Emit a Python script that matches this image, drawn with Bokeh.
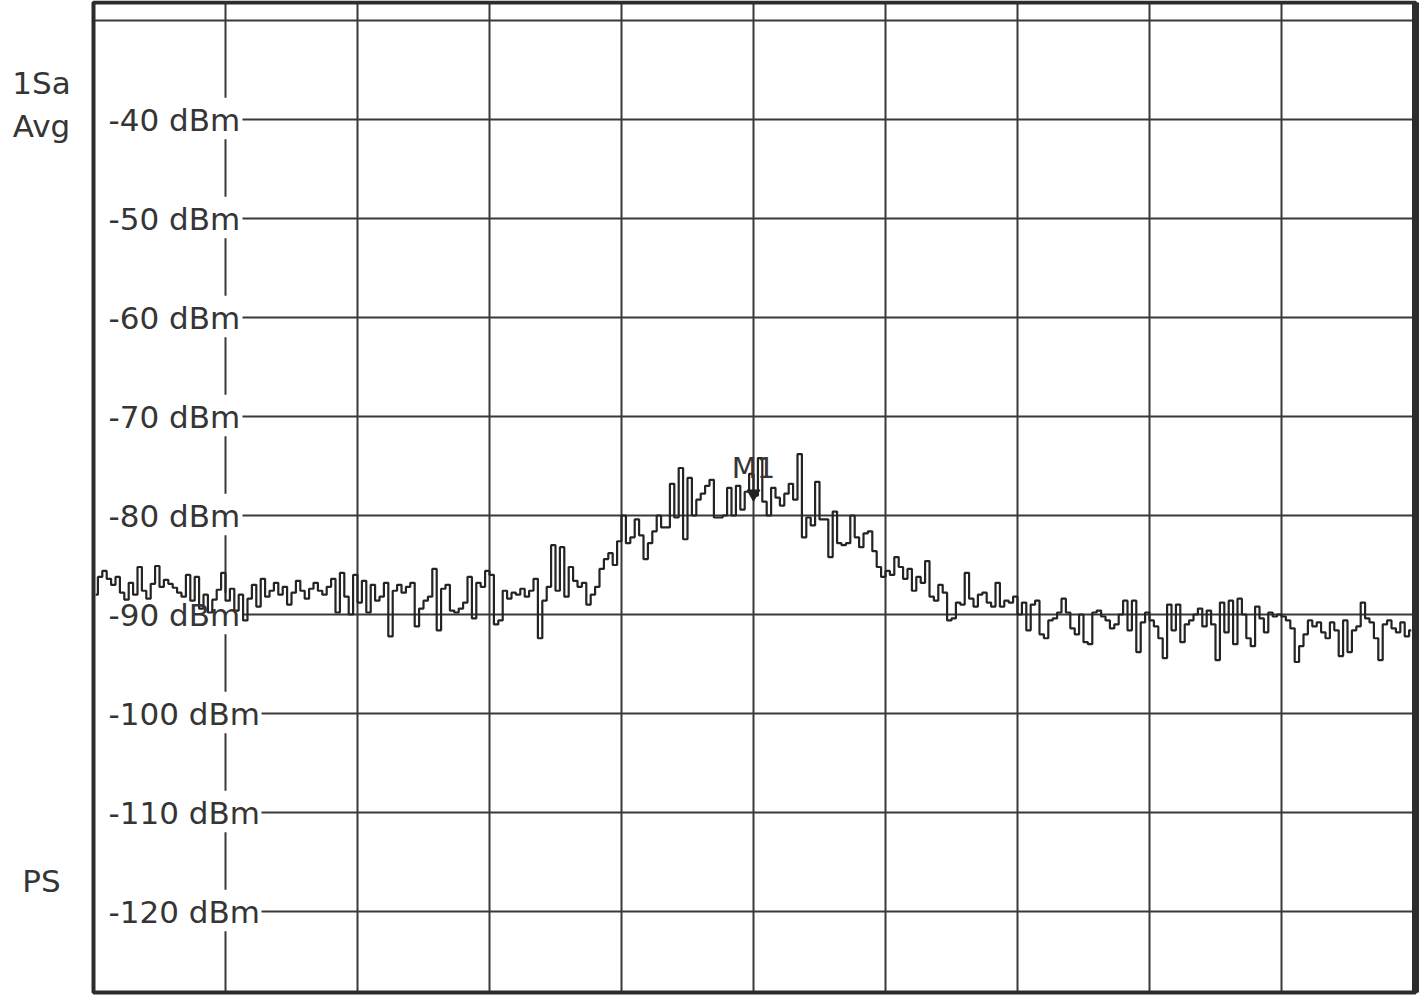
import numpy as np
from bokeh.plotting import figure
from bokeh.models import Label, Range1d
from bokeh.embed import file_html
from bokeh.resources import INLINE

# ---------------- data ----------------
# Spectrum trace (dBm), 300 sweep points, 30 points per horizontal division
trace_dbm = [
    # division 0
    -88.0, -86.2, -85.6, -86.4, -87.0, -86.2, -87.8, -88.5, -86.8, -88.0,
    -85.2, -87.6, -88.4, -86.9, -85.1, -87.2, -86.5, -86.9, -87.3, -87.8,
    -88.2, -86.0, -88.6, -86.2, -89.4, -88.0, -89.8, -88.5, -87.5, -85.8,
    # division 1
    -88.6, -87.4, -89.6, -88.0, -90.6, -88.4, -87.0, -89.2, -86.4, -88.2,
    -87.6, -86.8, -88.0, -87.2, -89.0, -87.8, -86.6, -87.6, -88.4, -87.4,
    -86.8, -87.6, -88.0, -87.2, -86.4, -89.8, -85.8, -88.2, -90.0, -86.0,
    # division 2
    -88.8, -86.6, -89.8, -87.0, -88.6, -88.2, -86.8, -92.2, -87.6, -87.0,
    -87.8, -87.2, -86.8, -91.2, -89.4, -88.6, -88.2, -85.4, -91.6, -87.4,
    -87.0, -89.6, -89.8, -89.4, -88.8, -86.2, -90.4, -86.8, -87.2, -85.6,
    # division 3
    -86.0, -91.0, -90.6, -87.6, -88.4, -87.8, -88.0, -87.4, -88.2, -87.6,
    -86.4, -92.4, -88.6, -87.2, -83.0, -87.6, -83.2, -88.2, -85.2, -86.6,
    -87.2, -86.8, -89.0, -88.0, -87.2, -85.4, -84.4, -83.8, -85.0, -82.6,
    # division 4
    -80.0, -82.8, -82.2, -80.4, -82.0, -84.4, -82.8, -81.6, -80.0, -81.2,
    -81.2, -76.8, -80.2, -75.2, -82.4, -76.2, -80.0, -78.4, -77.8, -77.0,
    -76.4, -80.2, -80.2, -80.0, -77.2, -80.0, -77.0, -79.4, -77.6, -75.8,
    # division 5
    -78.0, -74.2, -78.6, -80.0, -77.2, -78.2, -79.0, -77.8, -76.8, -78.4,
    -73.8, -82.2, -80.2, -81.0, -76.6, -80.4, -80.4, -84.2, -79.6, -82.8,
    -83.0, -82.8, -80.0, -82.2, -83.2, -81.8, -81.6, -83.6, -85.2, -86.2,
    # division 6
    -85.6, -86.0, -84.2, -85.2, -86.4, -85.4, -87.6, -86.2, -86.8, -84.6,
    -88.2, -88.6, -87.0, -87.8, -90.6, -90.4, -88.8, -89.0, -85.8, -88.4,
    -89.2, -88.0, -87.8, -88.8, -89.2, -86.8, -89.2, -88.6, -88.8, -88.2,
    # division 7
    -90.0, -88.8, -91.6, -89.0, -88.6, -92.0, -92.4, -90.6, -90.4, -89.8,
    -88.4, -89.8, -91.4, -92.0, -90.0, -92.8, -93.0, -89.8, -89.6, -90.2,
    -90.6, -91.4, -91.0, -90.0, -88.6, -91.6, -88.6, -93.8, -90.8, -89.8,
    # division 8
    -90.6, -91.2, -92.4, -94.4, -89.0, -91.6, -89.0, -92.8, -91.0, -90.6,
    -90.0, -89.4, -91.2, -89.6, -91.0, -94.6, -88.8, -91.8, -88.6, -93.0,
    -88.4, -90.0, -92.4, -93.2, -89.2, -90.4, -91.8, -89.8, -90.2, -90.0,
    # division 9
    -90.2, -90.6, -91.4, -94.8, -93.2, -92.0, -90.6, -91.2, -90.8, -91.8,
    -92.4, -90.8, -91.6, -94.2, -90.6, -93.8, -91.6, -91.2, -88.8, -90.4,
    -90.8, -92.4, -94.6, -91.0, -90.6, -91.4, -91.8, -90.8, -92.2, -91.6,
]

grid_levels = [-30, -40, -50, -60, -70, -80, -90, -100, -110, -120]
level_labels = ["", "-40 dBm", "-50 dBm", "-60 dBm", "-70 dBm", "-80 dBm",
                "-90 dBm", "-100 dBm", "-110 dBm", "-120 dBm"]
v_divisions = [1, 2, 3, 4, 5, 6, 7, 8, 9]
n_divisions = 10

marker_name = "M1"
marker_x_div = 5.0
marker_dbm = -77.8

side_texts = ["1Sa", "Avg", "PS"]
side_text_dbm = [-36.3, -40.7, -116.9]

# ---------------- layout / style ----------------
FONT = "DejaVu Sans"
TXT = "#353535"
GRID = "#3b3938"
EDGE = "#2c2c2c"
PX_PER_DIV = 132.0          # horizontal pixels per division
PX_PER_DB = 9.9             # vertical pixels per dB
W, H = 1420, 995
BOX_LEFT_PX = 93.0
REF_PX = 20.0               # pixel row of the -30 dBm line


def px_to_div(px):
    return (px - BOX_LEFT_PX) / PX_PER_DIV


def py_to_db(py):
    return -30.0 - (py - REF_PX) / PX_PER_DB


p = figure(width=W, height=H,
           x_range=Range1d(px_to_div(0), px_to_div(W)),
           y_range=Range1d(py_to_db(H), py_to_db(0)),
           output_backend="svg", toolbar_location=None,
           x_axis_location=None, y_axis_location=None,
           min_border_left=0, min_border_right=0, min_border_top=0,
           min_border_bottom=0)
p.grid.visible = False
p.outline_line_color = None
p.background_fill_color = "white"
p.border_fill_color = "white"

box_top = py_to_db(2)
box_bottom = py_to_db(992)
box_right = px_to_div(1415)

# horizontal grid lines (start right after their label)
label_left = px_to_div(108)
font_px = 31
char_px = 19.0
hx0, hx1, hy = [], [], []
for lvl, lab in zip(grid_levels, level_labels):
    start = 0.0 if lab == "" else px_to_div(108 + char_px * len(lab) + 1)
    hx0.append(start)
    hx1.append(box_right)
    hy.append(lvl)
p.segment(x0=hx0, y0=hy, x1=hx1, y1=hy, line_color=GRID, line_width=2)

# vertical grid lines; the first one is interrupted by the labels
vx0, vy0, vy1 = [], [], []
for d in v_divisions:
    if d == 1:
        top = box_top
        for lvl, lab in zip(grid_levels, level_labels):
            if lab:
                vx0.append(d); vy0.append(top); vy1.append(lvl + 2.2)
                top = lvl - 2.0
        vx0.append(d); vy0.append(top); vy1.append(box_bottom)
    else:
        vx0.append(d); vy0.append(box_top); vy1.append(box_bottom)
p.segment(x0=vx0, y0=vy0, x1=vx0, y1=vy1, line_color=GRID, line_width=2)

# outer box
p.quad(left=[0], right=[box_right], top=[box_top], bottom=[box_bottom],
       fill_color=None, line_color=EDGE, line_width=4)
p.segment(x0=[box_right], y0=[box_top], x1=[box_right], y1=[box_bottom],
          line_color=EDGE, line_width=7)

# level labels
for lvl, lab in zip(grid_levels, level_labels):
    if lab:
        p.add_layout(Label(x=label_left, y=lvl, text=lab, text_font=FONT,
                           text_font_size=f"{font_px}px", text_color=TXT,
                           text_align="left", text_baseline="middle"))

# trace
n = len(trace_dbm)
xs = (np.arange(n) + 0.5) * n_divisions / n
p.step(xs, trace_dbm, mode="center", line_color="#242424", line_width=2.2)

# marker
p.scatter([marker_x_div], [marker_dbm], marker="inverted_triangle", size=13,
          fill_color="#242424", line_color="#242424")
p.add_layout(Label(x=marker_x_div, y=marker_dbm + 2.6, text=marker_name,
                   text_font=FONT, text_font_size="29px", text_color=TXT,
                   text_align="center", text_baseline="middle"))

# side annotations left of the box
for t, yv in zip(side_texts, side_text_dbm):
    p.add_layout(Label(x=px_to_div(41), y=yv, text=t, text_font=FONT,
                       text_font_size=f"{font_px}px", text_color=TXT,
                       text_align="center", text_baseline="middle"))

open("out.html", "w").write(file_html(p, INLINE))
